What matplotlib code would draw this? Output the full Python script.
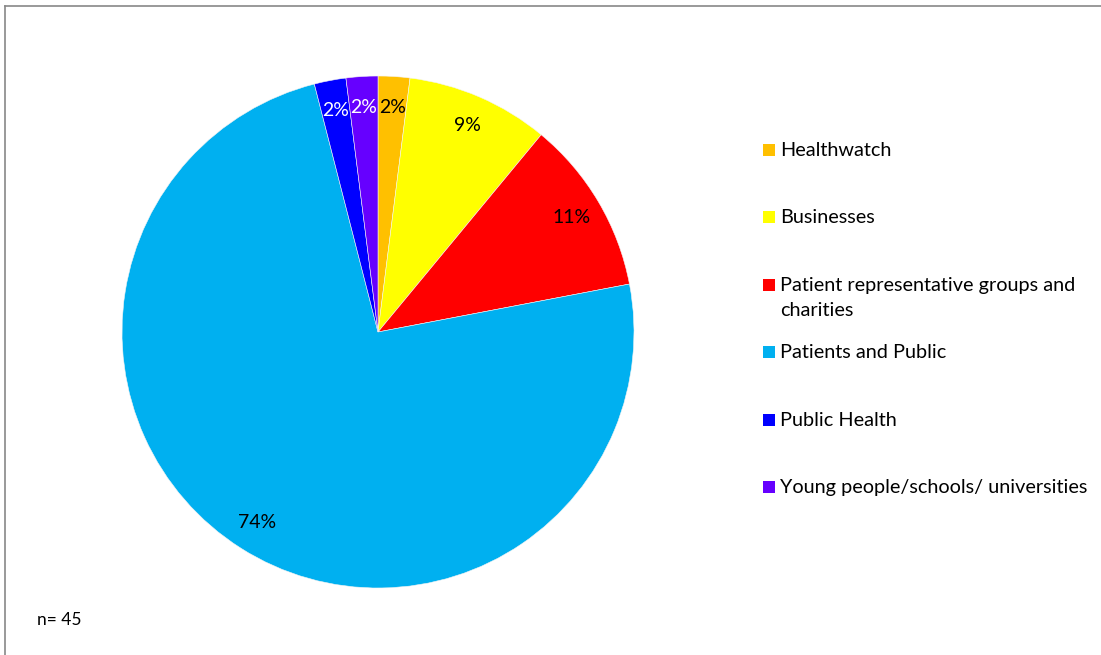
import matplotlib.pyplot as plt
from matplotlib.patches import Rectangle
from matplotlib.lines import Line2D

plt.rcParams['font.family'] = ['Lato', 'DejaVu Sans']

# stakeholder groups (n = 45)
groups = ['Healthwatch', 'Businesses', 'Patient representative groups and\ncharities',
          'Patients and Public', 'Public Health', 'Young people/schools/ universities']
shares = [2, 9, 11, 74, 2, 2]
colours = ['#FFC000', '#FFFF00', '#FF0000', '#00B0F0', '#0000FF', '#6600FF']
label_colours = ['black', 'black', 'black', 'black', 'white', 'white']

fig = plt.figure(figsize=(11.01, 6.55), dpi=100)

# pie axes: centre ~ (378, 332) px, radius ~ 256 px
W, H = 1101, 655
cx, cy, r = 378, 332, 256
ax = fig.add_axes([(cx - r) / W, 1 - (cy + r) / H, 2 * r / W, 2 * r / H])
wedges, texts, autotexts = ax.pie(
    shares, colors=colours, startangle=90, counterclock=False,
    autopct='%1.0f%%', pctdistance=0.88, radius=1.0,
    wedgeprops=dict(linewidth=0.4, edgecolor='#f4f4f4'),
    textprops=dict(fontsize=14))
for t, c in zip(autotexts, label_colours):
    t.set_color(c)
ax.set_xlim(-1, 1)
ax.set_ylim(-1, 1)
ax.set_aspect('equal')

# legend drawn by hand so wrapped entries keep even row spacing
rows_y = [150, 217, 285, 352, 420, 487]
for name, col, y in zip(groups, colours, rows_y):
    fig.patches.append(Rectangle((763 / W, 1 - (y + 6) / H), 12 / W, 12 / H,
                                 transform=fig.transFigure, facecolor=col,
                                 edgecolor='none'))
    fig.text(780 / W, 1 - (y - 8) / H, name, fontsize=14.3, va='top', ha='left',
             linespacing=1.55)

fig.text(37 / W, 1 - 620 / H, 'n= 45', fontsize=12.5, va='center', ha='left')

# chart area border (top and left edges visible)
fig.lines.append(Line2D([5 / W, 5 / W], [0, 1 - 6 / H], transform=fig.transFigure,
                        color='#888888', linewidth=1.2))
fig.lines.append(Line2D([5 / W, 1], [1 - 6 / H, 1 - 6 / H], transform=fig.transFigure,
                        color='#888888', linewidth=1.2))

fig.savefig('out.png', dpi=100, facecolor='white')
